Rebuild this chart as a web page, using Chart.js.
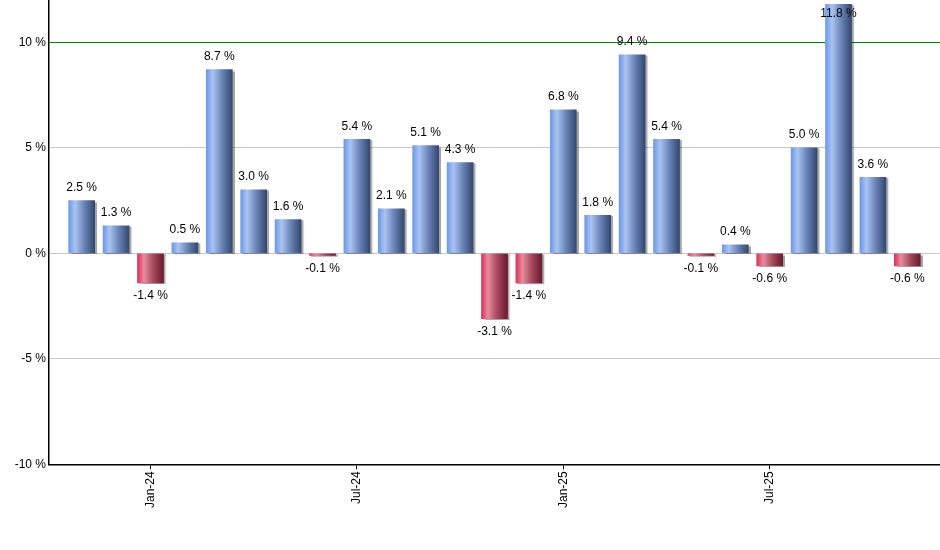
<!DOCTYPE html>
<html>
<head>
<meta charset="utf-8">
<script src="https://cdn.jsdelivr.net/npm/chart.js@4/dist/chart.umd.min.js"></script>
<style>
  html, body { margin: 0; padding: 0; background: #fff; }
  #wrap { width: 940px; height: 550px; position: relative; }
</style>
</head>
<body>
<div id="wrap"><canvas id="returnsChart"></canvas></div>
<script>
// Monthly returns, Nov-23 .. Nov-25
const months = [
  "Nov-23", "Dec-23", "Jan-24", "Feb-24", "Mar-24", "Apr-24", "May-24",
  "Jun-24", "Jul-24", "Aug-24", "Sep-24", "Oct-24", "Nov-24", "Dec-24",
  "Jan-25", "Feb-25", "Mar-25", "Apr-25", "May-25", "Jun-25", "Jul-25",
  "Aug-25", "Sep-25", "Oct-25", "Nov-25",
];
const returns = [
  2.5, 1.3, -1.4, 0.5, 8.7, 3.0, 1.6, -0.1, 5.4, 2.1, 5.1, 4.3, -3.1,
  -1.4, 6.8, 1.8, 9.4, 5.4, -0.1, 0.4, -0.6, 5.0, 11.8, 3.6, -0.6,
];
const tickMonths = ["Jan-24", "Jul-24", "Jan-25", "Jul-25"];
const yTicks = [-10, -5, 0, 5, 10];

const BAR_W = 26;
const FONT = { family: "'Liberation Sans', Arial, sans-serif", size: 12 };

function barGradient(context) {
  const chart = context.chart;
  const xScale = chart.scales.x;
  const pos = returns[context.dataIndex] >= 0;
  if (!xScale || context.dataIndex === undefined) return pos ? "#7aa0e8" : "#d8335a";
  const cx = xScale.getPixelForValue(context.dataIndex);
  if (!isFinite(cx)) return pos ? "#7aa0e8" : "#d8335a";
  const left = cx - BAR_W / 2;
  const g = chart.ctx.createLinearGradient(left, 0, left + BAR_W, 0);
  if (pos) {
    g.addColorStop(0, "#6d98e8");
    g.addColorStop(0.25, "#a9c4f2");
    g.addColorStop(0.6, "#6a84b8");
    g.addColorStop(1, "#34486f");
  } else {
    g.addColorStop(0, "#d8335a");
    g.addColorStop(0.25, "#ea8b9e");
    g.addColorStop(0.6, "#a64a5e");
    g.addColorStop(1, "#691a2b");
  }
  return g;
}

// soft drop shadow under bars
const barShadow = {
  id: "barShadow",
  beforeDatasetsDraw(chart) {
    const ctx = chart.ctx;
    ctx.save();
    ctx.shadowColor = "rgba(0,0,0,0.35)";
    ctx.shadowOffsetX = 2;
    ctx.shadowOffsetY = 1;
    ctx.shadowBlur = 1;
  },
  afterDatasetsDraw(chart) {
    chart.ctx.restore();
  },
};

// "2.5 %" labels above / below each bar
const valueLabels = {
  id: "valueLabels",
  afterDatasetsDraw(chart) {
    const ctx = chart.ctx;
    const meta = chart.getDatasetMeta(0);
    ctx.save();
    ctx.font = FONT.size + "px " + FONT.family;
    ctx.fillStyle = "#000";
    ctx.textAlign = "center";
    ctx.textBaseline = "middle";
    meta.data.forEach((bar, i) => {
      const v = returns[i];
      let y = v >= 0 ? bar.y - 13 : bar.y + 13;
      if (y < chart.chartArea.top + 14) y = chart.chartArea.top + 14;
      ctx.fillText(v.toFixed(1) + " %", bar.x, y);
    });
    ctx.restore();
  },
};

const chart = new Chart(document.getElementById("returnsChart"), {
  type: "bar",
  data: {
    datasets: [
      {
        data: returns.map((v, i) => ({ x: i, y: v })),
        backgroundColor: barGradient,
        borderWidth: 0,
        barThickness: BAR_W,
      },
    ],
  },
  options: {
    responsive: true,
    maintainAspectRatio: false,
    animation: false,
    layout: { padding: { top: 0, right: 0, bottom: 40, left: 0 } },
    plugins: {
      legend: { display: false },
      tooltip: { enabled: false },
    },
    scales: {
      x: {
        type: "linear",
        offset: false,
        min: -0.95,
        max: 24.95,
        afterBuildTicks: (axis) => {
          axis.ticks = tickMonths.map((m) => ({ value: months.indexOf(m) }));
        },
        afterFit: (axis) => {
          axis.paddingLeft = 0;
          axis.paddingRight = 0;
        },
        ticks: {
          callback: (value) => months[value],
          color: "#000",
          font: FONT,
          minRotation: 90,
          maxRotation: 90,
          autoSkip: false,
          padding: 2,
        },
        grid: {
          offset: false,
          drawOnChartArea: false,
          drawTicks: true,
          tickLength: 5,
          color: "#000",
        },
        border: { color: "#000", width: 1.5 },
      },
      y: {
        min: -10,
        max: 12,
        afterBuildTicks: (axis) => {
          axis.ticks = yTicks.map((v) => ({ value: v }));
        },
        afterFit: (axis) => {
          axis.width = 49;
          axis.paddingTop = 0;
          axis.paddingBottom = 0;
        },
        ticks: {
          callback: (value) => value + " %",
          color: "#000",
          font: FONT,
          padding: 3,
        },
        grid: {
          drawTicks: false,
          color: (c) =>
            c.tick.value === 10 ? "#008000" : c.tick.value === -10 ? "rgba(0,0,0,0)" : "#c8c8c8",
          lineWidth: 1,
        },
        border: { color: "#000", width: 1.5 },
      },
    },
  },
  plugins: [barShadow, valueLabels],
});
</script>
</body>
</html>
